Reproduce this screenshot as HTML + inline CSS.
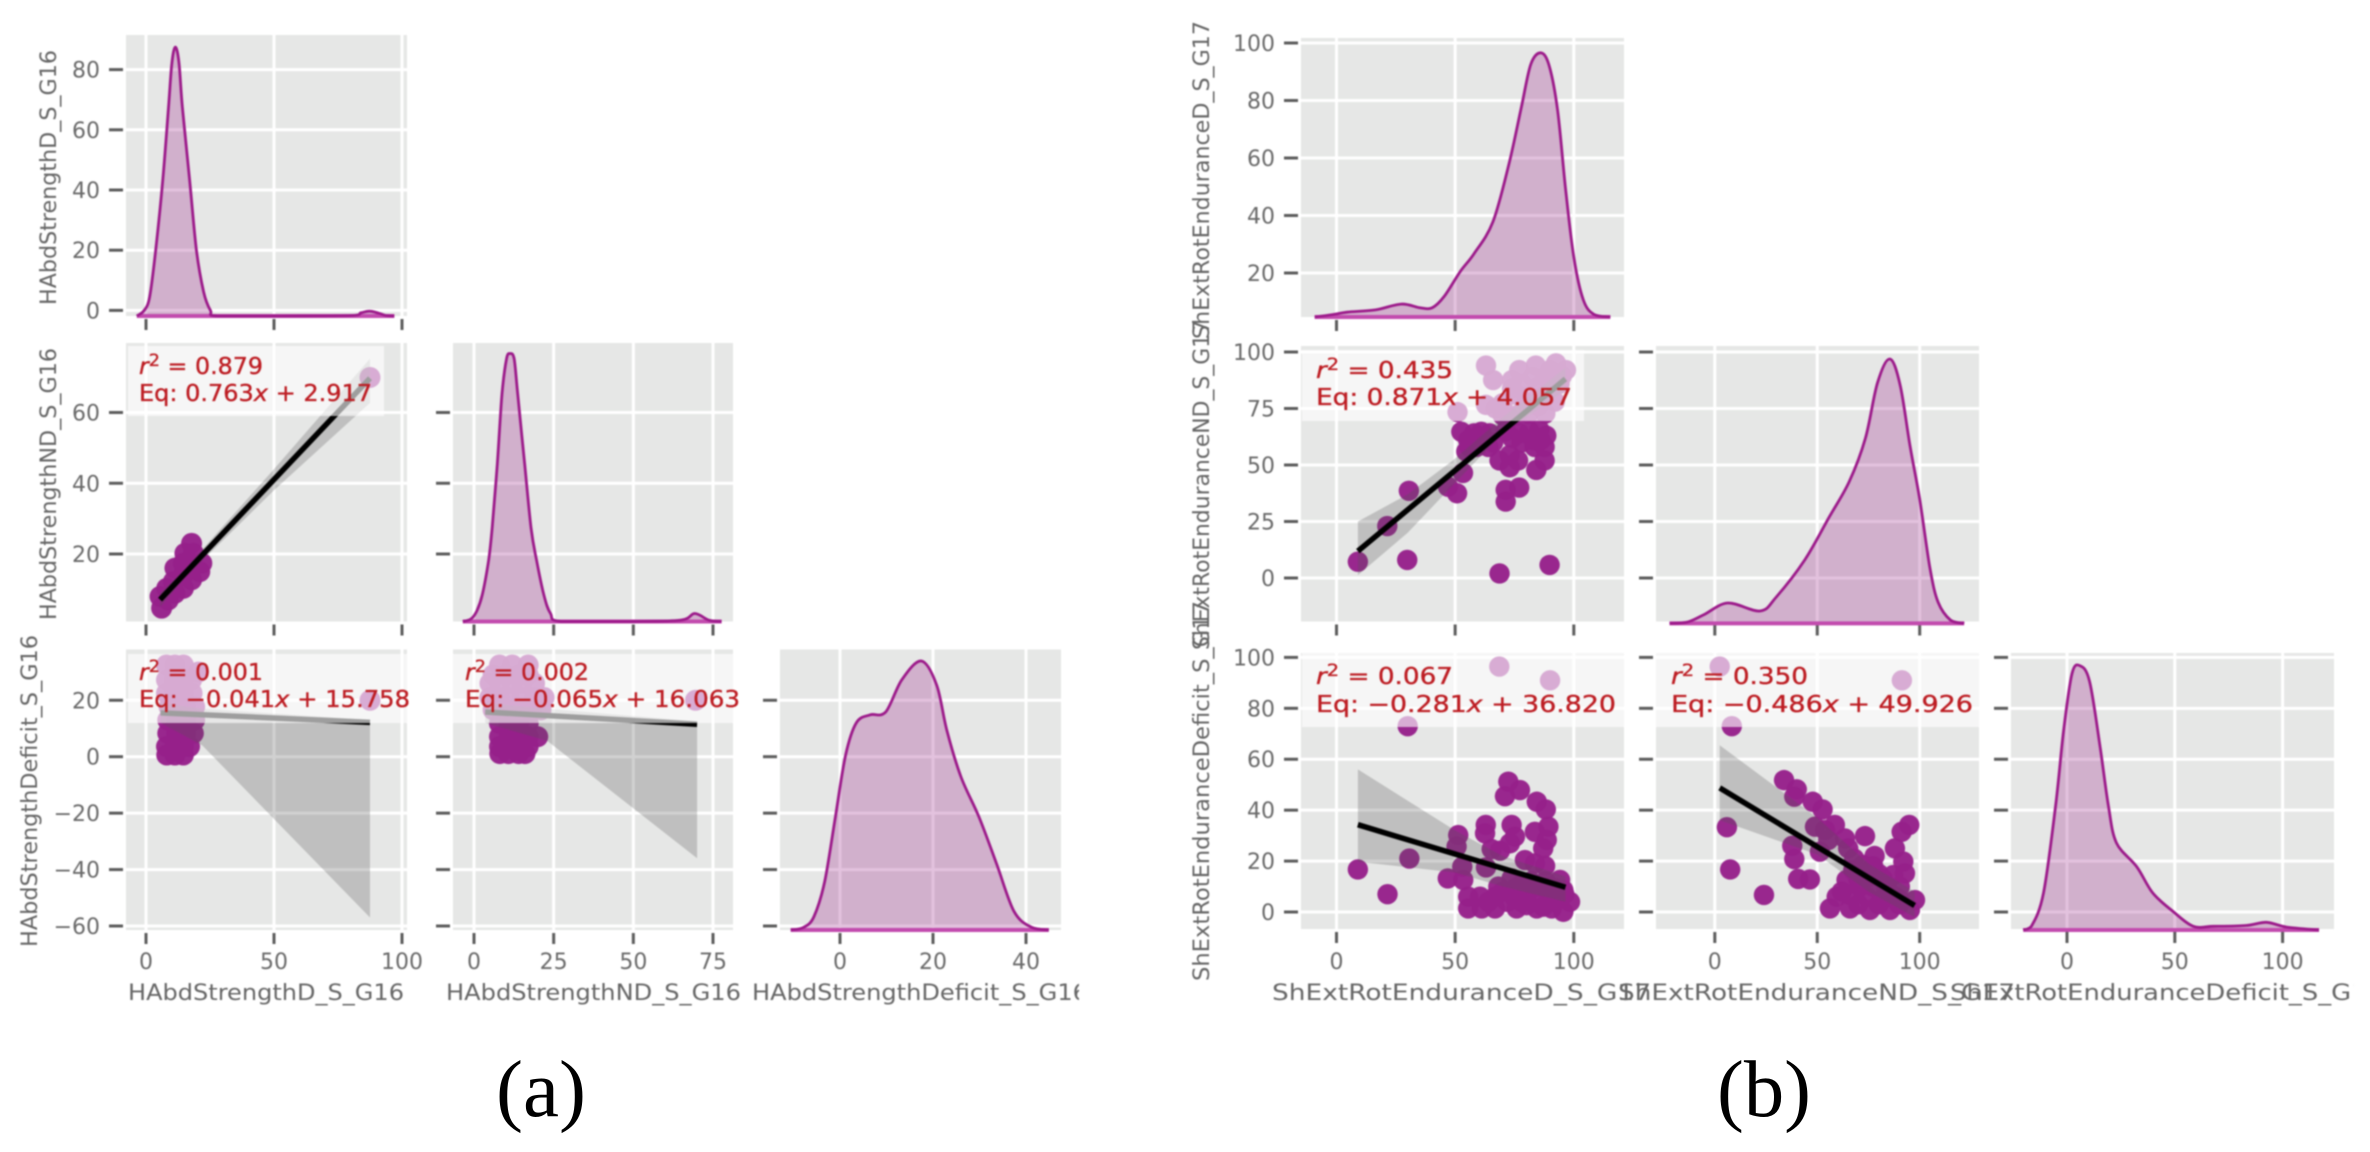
<!DOCTYPE html>
<html lang="en">
<head>
<meta charset="utf-8">
<title>Pair plots of strength and endurance</title>
<style>
html,body{margin:0;padding:0;background:#fff;width:2370px;height:1152px;overflow:hidden}
svg{display:block}
text{font-family:"DejaVu Sans","Liberation Sans",sans-serif}
.tl{font-size:22px;fill:#6a6a6a}
.al{font-size:22px;fill:#666}
.ann{font-size:23px;fill:#bd1c22;stroke:#bd1c22;stroke-width:.35}
.cap{font-family:"Liberation Serif",serif;font-size:80px;fill:#000}
</style>
</head>
<body>
<svg id="chart" xmlns="http://www.w3.org/2000/svg" width="2370" height="1152" viewBox="0 0 2370 1152">
<defs>
<filter id="soft" filterUnits="userSpaceOnUse" x="0" y="0" width="2370" height="1152" color-interpolation-filters="sRGB"><feGaussianBlur stdDeviation="0.9"/></filter>
<clipPath id="clipA"><rect x="0" y="0" width="1079" height="1152"/></clipPath>
<clipPath id="clipB"><rect x="1100" y="0" width="1254" height="1152"/></clipPath>
</defs>
<rect width="2370" height="1152" fill="#fff"/>
<g filter="url(#soft)">
<g id="marks"></g>

<g>
<rect x="128" y="346" width="256" height="70" fill="#fff" fill-opacity=".62"/>
<text class="ann" x="139" y="374" textLength="124" lengthAdjust="spacingAndGlyphs"><tspan font-style="italic">r</tspan><tspan dy="-8" font-size="17">2</tspan><tspan dy="8"> = 0.879</tspan></text>
<text class="ann" x="139" y="401" textLength="233" lengthAdjust="spacingAndGlyphs">Eq: 0.763<tspan font-style="italic">x</tspan> + 2.917</text>
</g>
<g>
<rect x="128" y="654" width="279" height="69" fill="#fff" fill-opacity=".62"/>
<text class="ann" x="139" y="680" textLength="124" lengthAdjust="spacingAndGlyphs"><tspan font-style="italic">r</tspan><tspan dy="-8" font-size="17">2</tspan><tspan dy="8"> = 0.001</tspan></text>
<text class="ann" x="139" y="707" textLength="271" lengthAdjust="spacingAndGlyphs">Eq: −0.041<tspan font-style="italic">x</tspan> + 15.758</text>
</g>
<g>
<rect x="453" y="654" width="280" height="69" fill="#fff" fill-opacity=".62"/>
<text class="ann" x="465" y="680" textLength="124" lengthAdjust="spacingAndGlyphs"><tspan font-style="italic">r</tspan><tspan dy="-8" font-size="17">2</tspan><tspan dy="8"> = 0.002</tspan></text>
<text class="ann" x="465" y="707" textLength="275" lengthAdjust="spacingAndGlyphs">Eq: −0.065<tspan font-style="italic">x</tspan> + 16.063</text>
</g>
<g>
<rect x="1302" y="350" width="282" height="71" fill="#fff" fill-opacity=".62"/>
<text class="ann" x="1316" y="378" textLength="137" lengthAdjust="spacingAndGlyphs"><tspan font-style="italic">r</tspan><tspan dy="-8" font-size="17">2</tspan><tspan dy="8"> = 0.435</tspan></text>
<text class="ann" x="1316" y="405" textLength="256" lengthAdjust="spacingAndGlyphs">Eq: 0.871<tspan font-style="italic">x</tspan> + 4.057</text>
</g>
<g>
<rect x="1302" y="653" width="322" height="74" fill="#fff" fill-opacity=".62"/>
<text class="ann" x="1316" y="684" textLength="137" lengthAdjust="spacingAndGlyphs"><tspan font-style="italic">r</tspan><tspan dy="-8" font-size="17">2</tspan><tspan dy="8"> = 0.067</tspan></text>
<text class="ann" x="1316" y="712" textLength="300" lengthAdjust="spacingAndGlyphs">Eq: −0.281<tspan font-style="italic">x</tspan> + 36.820</text>
</g>
<g>
<rect x="1656" y="653" width="323" height="74" fill="#fff" fill-opacity=".62"/>
<text class="ann" x="1671" y="684" textLength="137" lengthAdjust="spacingAndGlyphs"><tspan font-style="italic">r</tspan><tspan dy="-8" font-size="17">2</tspan><tspan dy="8"> = 0.350</tspan></text>
<text class="ann" x="1671" y="712" textLength="302" lengthAdjust="spacingAndGlyphs">Eq: −0.486<tspan font-style="italic">x</tspan> + 49.926</text>
</g>

<text class="al" x="128" y="1000" textLength="276" lengthAdjust="spacingAndGlyphs">HAbdStrengthD_S_G16</text>
<text class="al" x="446" y="1000" textLength="295" lengthAdjust="spacingAndGlyphs">HAbdStrengthND_S_G16</text>
<text class="al" x="752" y="1000" textLength="336" lengthAdjust="spacingAndGlyphs" clip-path="url(#clipA)">HAbdStrengthDeficit_S_G16</text>
<text class="al" transform="translate(56 305) rotate(-90)" textLength="255" lengthAdjust="spacingAndGlyphs">HAbdStrengthD_S_G16</text>
<text class="al" transform="translate(56 620) rotate(-90)" textLength="272" lengthAdjust="spacingAndGlyphs">HAbdStrengthND_S_G16</text>
<text class="al" transform="translate(37 947) rotate(-90)" textLength="312" lengthAdjust="spacingAndGlyphs">HAbdStrengthDeficit_S_G16</text>

<text class="al" x="1272" y="1000" textLength="379" lengthAdjust="spacingAndGlyphs">ShExtRotEnduranceD_S_G17</text>
<text class="al" x="1618" y="1000" textLength="397" lengthAdjust="spacingAndGlyphs">ShExtRotEnduranceND_S_G17</text>
<text class="al" x="1950" y="1000" textLength="434" lengthAdjust="spacingAndGlyphs" clip-path="url(#clipB)">ShExtRotEnduranceDeficit_S_G17</text>
<text class="al" transform="translate(1209 339) rotate(-90)" textLength="318" lengthAdjust="spacingAndGlyphs">ShExtRotEnduranceD_S_G17</text>
<text class="al" transform="translate(1209 650) rotate(-90)" textLength="330" lengthAdjust="spacingAndGlyphs">ShExtRotEnduranceND_S_G17</text>
<text class="al" transform="translate(1209 981) rotate(-90)" textLength="380" lengthAdjust="spacingAndGlyphs">ShExtRotEnduranceDeficit_S_G17</text>
</g>

<text class="cap" x="496" y="1116" textLength="90" lengthAdjust="spacingAndGlyphs">(a)</text>
<text class="cap" x="1717" y="1116" textLength="94" lengthAdjust="spacingAndGlyphs">(b)</text>
</svg>

<script>
/* ---------- tick values ---------- */
const aTicksXD = [0, 50, 100];
const aTicksXND = [0, 25, 50, 75];
const aTicksXDef = [0, 20, 40];
const aTicksYD = [0, 20, 40, 60, 80];
const aTicksYND = [20, 40, 60];
const aTicksYDef = [-60, -40, -20, 0, 20];
const bTicksX = [0, 50, 100];
const bTicksYD = [20, 40, 60, 80, 100];
const bTicksYND = [0, 25, 50, 75, 100];
const bTicksYDef = [0, 20, 40, 60, 80, 100];

/* ---------- KDE curves: value, relative density (peak = 100) ---------- */
const aKdeDX = [-3.6, -0.8, 1.4, 3.8, 6.6, 8.8, 10.1, 11.5, 12.9, 14.2, 17, 19.7, 22.5, 25.2, 27.9, 52.6, 80, 84, 87.4, 91, 93.7, 97];
const aKdeDH = [0, 2, 7, 24.5, 51, 77.5, 94, 100, 94, 77.5, 51, 24.5, 9, 2, 0, 0, 0.2, 1.2, 1.8, 1, 0.2, 0];
const aKdeNDX = [-3.5, -0.9, 0.9, 2.6, 4.6, 5.7, 7.3, 8.8, 10.2, 11.3, 12.6, 13.7, 15.9, 17.9, 19.6, 21.9, 24, 27.4, 49.4, 64.9, 69.3, 73.7, 77.7];
const aKdeNDH = [0, 1, 4, 10, 23, 35, 58.7, 85, 98, 100, 98, 85, 58.7, 35, 23, 10, 3, 0, 0, 0.5, 3, 0.5, 0];
const aKdeDefX = [-10.6, -7.8, -5.6, -3.3, -1, 1.2, 3.5, 6.5, 9.8, 13.3, 17.5, 20.8, 23, 26, 29.9, 33.6, 37.4, 41.2, 44.9];
const aKdeDefH = [0, 1, 5, 18, 42, 65, 77, 80, 81, 93, 100, 91, 74, 57, 42, 25, 7, 1, 0];
const bKdeDX = [-9.2, -2.4, 4.4, 16.4, 27.3, 35.2, 40.3, 45.4, 52.2, 58, 65.9, 72.7, 77.8, 81.9, 86.3, 89.8, 93.2, 96.6, 100, 104, 108.5, 115.4];
const bKdeDH = [0, 0.8, 1.8, 2.7, 4.9, 3.5, 3.5, 7.8, 17.3, 24, 36, 58, 79, 95.7, 100, 94.6, 78, 48, 22.7, 6.5, 1, 0];
const bKdeNDX = [-22.1, -13.4, -5.5, 6.3, 22.1, 30, 43.9, 55.7, 65.6, 73.5, 79.4, 85.4, 90.5, 95.3, 100, 105, 109, 115, 121.7];
const bKdeNDH = [0, 0.5, 3.2, 7.7, 4.7, 10, 24, 40, 53.6, 70, 91, 100, 90, 67, 47, 21, 8, 1.3, 0];
const bKdeDefX = [-20.3, -16.5, -10.9, -5.3, -1.5, 2.3, 6, 10.5, 15.4, 19.2, 22.9, 32.3, 39.8, 49.2, 58.6, 68, 83, 92.5, 101.9, 116.9];
const bKdeDefH = [0, 1.4, 14, 47, 76, 97, 100, 94, 69, 47, 33, 24, 14, 7, 1.4, 1.4, 1.7, 2.9, 1.1, 0];

/* ---------- scatter data ---------- */
const aNdVsDX = [6.1, 5.5, 8.7, 8.1, 11.3, 10.7, 14.6, 11.3, 14.6, 17.8, 14.6, 17.8, 21, 15.2, 18.5, 21.8, 17.8, 87.5];
const aNdVsDY = [4.7, 8, 7, 10.3, 8.9, 12.2, 10.3, 16, 14.1, 12.7, 17.4, 16.9, 15, 20.2, 20.2, 17.4, 23, 69.9];
const aDefVsDX = [8.1, 11.3, 14.6, 8, 11.3, 14.6, 17, 8.5, 12, 15.5, 18.5, 8.5, 12, 15.5, 19, 9, 12, 15.5, 19, 8, 11, 14.6, 18, 8, 11, 14.6, 17.8, 8, 11.3, 14.6, 20.5, 87.5];
const aDefVsDY = [0.6, 0.6, 0.6, 3.6, 3.6, 3.6, 3.6, 8.3, 8.3, 8.3, 8.3, 13, 13, 13, 13, 17.7, 17.7, 17.7, 17.7, 22.5, 22.5, 22.5, 22.5, 27.2, 27.2, 27.2, 27.2, 32.5, 32.5, 32.5, 30, 20];
const aDefVsNDX = [8.1, 10.8, 14, 16, 8, 11, 14, 17, 8, 11, 14, 17, 20, 8, 11, 14, 17, 6, 9, 12, 15, 18, 21, 5, 8, 11, 15, 19, 22, 5, 8, 12, 15, 19, 6, 10, 14, 17, 8, 12, 17, 69.5];
const aDefVsNDY = [1.1, 1.1, 1.1, 1.1, 3.6, 3.6, 3.6, 3.6, 7.1, 7.1, 7.1, 7.1, 7.1, 11.8, 11.8, 11.8, 11.8, 16.6, 16.6, 16.6, 16.6, 16.6, 16.6, 21, 21, 21, 21, 21, 21, 26, 26, 26, 26, 26, 29, 29, 29, 29, 32.5, 32.5, 32.5, 20];

const bNdVsDX = [9, 29.8, 68.7, 89.8, 21.4, 30.5, 47, 50.8, 53.3, 71.3, 77, 71.3, 68.7, 73, 76.5, 73, 84.2, 87.7, 83.5, 87.7, 88.4, 52.6, 55.5, 54.7, 61, 64.5, 59, 71.3, 77, 81.3, 85.5, 51, 63, 66, 63, 67, 74, 77, 82.7, 88, 92.5, 96.7, 95, 87, 77, 73, 81, 88, 91, 70, 85, 70, 76, 85, 92, 78, 84, 90, 94, 80, 74, 58, 66, 74, 78, 83, 86, 60, 56, 64];
const bNdVsDY = [7.2, 8, 2, 5.8, 23, 38.6, 40.4, 37.5, 46.5, 39, 40, 33.8, 52, 54.4, 52, 49, 47.8, 52, 58, 58, 63, 64.7, 61, 56, 64.7, 64, 58, 65, 64, 65, 65.5, 73.4, 94, 87.6, 76.6, 75, 87.6, 92, 89, 89, 95, 92, 89.5, 80.5, 80.5, 71, 72.8, 72.8, 84.6, 77.3, 84.6, 72, 72, 76, 78, 86, 94, 92, 86, 78, 84, 64, 60, 62, 60, 61, 61, 62, 58, 58];
const bDefVsDX = [30, 68.6, 90, 9, 30.7, 21.5, 55.5, 55.5, 60.5, 61.2, 66.8, 68.2, 66.8, 75.9, 84.4, 90.7, 95.6, 98.4, 95.6, 94.2, 90, 85.8, 80.1, 75.2, 73.8, 82.9, 87.1, 80.1, 75.2, 92.1, 51.3, 50.6, 53, 46.9, 53.4, 62.9, 62.6, 63, 65.4, 68.9, 73.8, 75.2, 73.1, 83.6, 89.3, 88.6, 87.1, 79.4, 83.6, 87.9, 71, 77.3, 72.4, 84.4, 88.2, 70, 78, 82, 88, 92, 96, 85, 90, 78, 72, 64];
const bDefVsDY = [73, 96.4, 91, 16.7, 21, 7, 1.4, 6, 6, 1.4, 1.4, 10, 6, 1.4, 1.4, 1.4, 0.1, 4, 8.6, 12.6, 6.7, 6.7, 6.7, 9.3, 13.2, 10, 2.1, 2.7, 5.4, 9.3, 30.2, 25.7, 17.8, 13.2, 12.6, 34.2, 30.9, 17.5, 24.7, 24.1, 34.2, 29.6, 27, 31.5, 33.5, 28.3, 25, 20.4, 19.1, 18.1, 45.5, 47.9, 51.2, 43.3, 40.3, 8, 4, 12, 12, 4, 7, 10, 10, 11, 4, 4];
const bDefVsNDX = [2.4, 91.3, 8.3, 5.9, 7.5, 24, 56.2, 66, 75.7, 85.5, 95.2, 97.7, 59.5, 66, 74.1, 82.2, 90.3, 64.3, 70.8, 77.3, 83.8, 90.3, 67.6, 72.4, 77.3, 87.1, 92, 92.8, 87.9, 91.2, 94.9, 73.3, 65.1, 63.5, 58.6, 48.9, 53.8, 55.4, 51.3, 52.6, 47.8, 38.8, 40, 33.8, 37.8, 38.8, 40.7, 46.4, 70, 80, 90, 62, 70, 76, 82, 88, 78, 72, 80, 68];
const bDefVsNDY = [96.4, 91, 73, 33.3, 16.7, 6.7, 1.4, 1.4, 0.8, 0.8, 0.8, 4.7, 6, 6.7, 6, 5.4, 4.7, 12.6, 10, 10, 10, 10, 16.5, 18.5, 18, 14.5, 19.8, 15.2, 25, 31.5, 34.2, 29.8, 25, 28.9, 34.2, 33.5, 32.2, 28.3, 23.7, 40.3, 43.3, 45.3, 48.2, 51.8, 26, 20.8, 13, 12.8, 3, 3, 3, 8, 13, 14, 13, 6, 22, 15, 15, 21];

/* ---------- regression fits: [x start, x end], slope, intercept ---------- */
const aNdVsDFitX = [5.5, 87.5];
const aNdVsDSlope = 0.763;
const aNdVsDIntercept = 2.917;
const aDefVsDFitX = [5.7, 87.5];
const aDefVsDSlope = -0.041;
const aDefVsDIntercept = 15.758;
const aDefVsNDFitX = [3.5, 70];
const aDefVsNDSlope = -0.065;
const aDefVsNDIntercept = 16.063;
const bNdVsDFitX = [9, 96.5];
const bNdVsDSlope = 0.871;
const bNdVsDIntercept = 4.057;
const bDefVsDFitX = [9, 96.5];
const bDefVsDSlope = -0.281;
const bDefVsDIntercept = 36.82;
const bDefVsNDFitX = [2.4, 97.5];
const bDefVsNDSlope = -0.486;
const bDefVsNDIntercept = 49.926;

/* ---------- confidence bands: x, upper, lower ---------- */
const aNdVsDBandX = [5.5, 15, 50, 87.5];
const aNdVsDBandUp = [9, 15.6, 44, 75.2];
const aNdVsDBandLo = [5, 13.2, 38, 62.7];
const aDefVsDBandX = [5.7, 22, 87.5];
const aDefVsDBandUp = [19, 17, 13];
const aDefVsDBandLo = [12, 4, -57];
const aDefVsNDBandX = [3.5, 23, 70];
const aDefVsNDBandUp = [19, 17, 12.5];
const aDefVsNDBandLo = [12, 5.6, -36];
const bNdVsDBandX = [9, 30, 49, 70, 96.5];
const bNdVsDBandUp = [25, 37, 52, 71, 93];
const bNdVsDBandLo = [1.3, 20, 41, 64, 83];
const bDefVsDBandX = [9, 50, 70, 96.5];
const bDefVsDBandUp = [56, 32, 22, 14];
const bDefVsDBandLo = [19.7, 15.5, 10, 4];
const bDefVsNDBandX = [2.4, 50, 75, 97.5];
const bDefVsNDBandUp = [65.5, 37, 19, 8];
const bDefVsNDBandLo = [36, 22.6, 8, -2];

/* ---------- axis functions ---------- */
function linear(v0, p0, v1, p1) {
  return function (v) { return p0 + (v - v0) * (p1 - p0) / (v1 - v0); };
}
const aXD = linear(0, 146, 100, 402);
const aXND = linear(0, 474, 75, 713);
const aXDef = linear(0, 840, 40, 1026);
const aYD = linear(0, 310.4, 80, 69.6);
const aYND = linear(20, 554, 60, 412.5);
const aYDef = linear(0, 756.7, -60, 926);
const bXD = linear(0, 1336.5, 100, 1573.8);
const bXND = linear(0, 1714.8, 100, 1919.7);
const bXDef = linear(0, 2067, 100, 2282.6);
const bYD = linear(20, 273, 100, 43);
const bYND = linear(0, 578, 100, 352);
const bYDef = linear(0, 912, 100, 657.4);

/* ---------- drawing helpers ---------- */
const NS = 'http://www.w3.org/2000/svg';
const root = document.getElementById('marks');

function mk(tag, attrs, parent) {
  const n = document.createElementNS(NS, tag);
  for (const k in attrs) n.setAttribute(k, attrs[k]);
  parent.appendChild(n);
  return n;
}
function fmt(v) {
  return v < 0 ? '\u2212' + Math.abs(v) : String(v);
}
function smoothPath(pts) {
  let d = 'M' + pts[0][0].toFixed(1) + ' ' + pts[0][1].toFixed(1);
  for (let i = 0; i < pts.length - 1; i++) {
    const p0 = pts[Math.max(0, i - 1)], p1 = pts[i], p2 = pts[i + 1], p3 = pts[Math.min(pts.length - 1, i + 2)];
    const c1x = p1[0] + (p2[0] - p0[0]) / 6;
    const c1y = Math.min(pts[0][1], p1[1] + (p2[1] - p0[1]) / 6);
    const c2x = p2[0] - (p3[0] - p1[0]) / 6;
    const c2y = Math.min(pts[0][1], p2[1] - (p3[1] - p1[1]) / 6);
    d += 'C' + c1x.toFixed(1) + ' ' + c1y.toFixed(1) + ' ' + c2x.toFixed(1) + ' ' + c2y.toFixed(1) + ' ' + p2[0].toFixed(1) + ' ' + p2[1].toFixed(1);
  }
  return d;
}

function drawPanel(box, xs, xTicks, ys, yTicks, xTickLabels, yTickLabels, name) {
  const g = mk('g', {}, root);
  
  
  const bg = mk('rect', { x: box[0], y: box[2], width: box[1] - box[0], height: box[3] - box[2], fill: '#e6e7e6' }, g);
  
  
  xTicks.forEach(function (t) {
    const gl = mk('line', { x1: xs(t), x2: xs(t), y1: box[2], y2: box[3], stroke: '#fff', 'stroke-width': 3 }, g);
    
    
    const tk = mk('line', { x1: xs(t), x2: xs(t), y1: box[3] + 3, y2: box[3] + 14, stroke: '#5c5c5c', 'stroke-width': 3 }, g);
    
    
    if (xTickLabels) {
      const tl = mk('text', { x: xs(t), y: 969, 'text-anchor': 'middle', class: 'tl' }, g);
      
      
      tl.textContent = fmt(t);
    }
  });
  yTicks.forEach(function (t) {
    const gl = mk('line', { x1: box[0], x2: box[1], y1: ys(t), y2: ys(t), stroke: '#fff', 'stroke-width': 3 }, g);
    
    
    const tk = mk('line', { x1: box[0] - 17, x2: box[0] - 3, y1: ys(t), y2: ys(t), stroke: '#5c5c5c', 'stroke-width': 3 }, g);
    
    
    if (yTickLabels) {
      const tl = mk('text', { x: box[0] - 26, y: ys(t) + 8, 'text-anchor': 'end', class: 'tl' }, g);
      
      
      tl.textContent = fmt(t);
    }
  });
  return g;
}

function drawKde(g, xs, xv, hv, bottom, peak) {
  const hs = linear(0, bottom, 100, peak);
  const pts = xv.map(function (x, i) { return [xs(x), hs(hv[i])]; });
  const d = smoothPath(pts);
  const area = mk('path', { d: d + 'Z', fill: '#981e86', 'fill-opacity': 0.27 }, g);
  
  
  const base = mk('line', { x1: pts[0][0], x2: pts[pts.length - 1][0], y1: bottom, y2: bottom, stroke: '#c24bae', 'stroke-width': 4 }, g);
  
  
  const line = mk('path', { d: d, fill: 'none', stroke: '#9c1a8a', 'stroke-width': 2.8 }, g);
  
  
}

function drawScatter(g, xs, ys, xv, yv, r) {
  xv.forEach(function (x, i) {
    const c = mk('circle', { cx: xs(x), cy: ys(yv[i]), r: r, fill: '#96208a', 'fill-opacity': 0.97 }, g);
    
    
  });
}

function drawFit(g, xs, ys, fitX, slope, intercept, bandX, bandUp, bandLo) {
  const upper = bandX.map(function (x, i) { return xs(x).toFixed(1) + ',' + ys(bandUp[i]).toFixed(1); });
  const lower = bandX.map(function (x, i) { return xs(x).toFixed(1) + ',' + ys(bandLo[i]).toFixed(1); }).reverse();
  const band = mk('polygon', { points: upper.concat(lower).join(' '), fill: '#555', 'fill-opacity': 0.27 }, g);
  
  
  const line = mk('line', {
    x1: xs(fitX[0]), y1: ys(slope * fitX[0] + intercept),
    x2: xs(fitX[1]), y2: ys(slope * fitX[1] + intercept),
    stroke: '#000', 'stroke-width': 5.5
  }, g);
  
  
}

/* ---------- figure (a) ---------- */
const aC1 = [126, 407], aC2 = [453, 733], aC3 = [780, 1061];
const aR1 = [35, 316], aR2 = [343, 621.5], aR3 = [649.5, 930];
function bx(c, r) { return [c[0], c[1], r[0], r[1]]; }

const pA11 = drawPanel(bx(aC1, aR1), aXD, aTicksXD, aYD, aTicksYD, false, true, 'panel-a-d-kde');
drawKde(pA11, aXD, aKdeDX, aKdeDH, 316, 47);

const pA21 = drawPanel(bx(aC1, aR2), aXD, aTicksXD, aYND, aTicksYND, false, true, 'panel-a-nd-vs-d');
drawScatter(pA21, aXD, aYND, aNdVsDX, aNdVsDY, 10.5);
drawFit(pA21, aXD, aYND, aNdVsDFitX, aNdVsDSlope, aNdVsDIntercept, aNdVsDBandX, aNdVsDBandUp, aNdVsDBandLo);

const pA22 = drawPanel(bx(aC2, aR2), aXND, aTicksXND, aYND, aTicksYND, false, false, 'panel-a-nd-kde');
drawKde(pA22, aXND, aKdeNDX, aKdeNDH, 621.5, 353.6);

const pA31 = drawPanel(bx(aC1, aR3), aXD, aTicksXD, aYDef, aTicksYDef, true, true, 'panel-a-deficit-vs-d');
drawScatter(pA31, aXD, aYDef, aDefVsDX, aDefVsDY, 10.5);
drawFit(pA31, aXD, aYDef, aDefVsDFitX, aDefVsDSlope, aDefVsDIntercept, aDefVsDBandX, aDefVsDBandUp, aDefVsDBandLo);

const pA32 = drawPanel(bx(aC2, aR3), aXND, aTicksXND, aYDef, aTicksYDef, true, false, 'panel-a-deficit-vs-nd');
drawScatter(pA32, aXND, aYDef, aDefVsNDX, aDefVsNDY, 10.5);
drawFit(pA32, aXND, aYDef, aDefVsNDFitX, aDefVsNDSlope, aDefVsNDIntercept, aDefVsNDBandX, aDefVsNDBandUp, aDefVsNDBandLo);

const pA33 = drawPanel(bx(aC3, aR3), aXDef, aTicksXDef, aYDef, aTicksYDef, true, false, 'panel-a-deficit-kde');
drawKde(pA33, aXDef, aKdeDefX, aKdeDefH, 930, 661);

/* ---------- figure (b) ---------- */
const bC1 = [1301, 1624], bC2 = [1656, 1979], bC3 = [2011, 2334];
const bR1 = [38, 317], bR2 = [346, 621.5], bR3 = [653, 929];

const pB11 = drawPanel(bx(bC1, bR1), bXD, bTicksX, bYD, bTicksYD, false, true, 'panel-b-d-kde');
drawKde(pB11, bXD, bKdeDX, bKdeDH, 317, 52.9);

const pB21 = drawPanel(bx(bC1, bR2), bXD, bTicksX, bYND, bTicksYND, false, true, 'panel-b-nd-vs-d');
drawScatter(pB21, bXD, bYND, bNdVsDX, bNdVsDY, 10.2);
drawFit(pB21, bXD, bYND, bNdVsDFitX, bNdVsDSlope, bNdVsDIntercept, bNdVsDBandX, bNdVsDBandUp, bNdVsDBandLo);

const pB22 = drawPanel(bx(bC2, bR2), bXND, bTicksX, bYND, bTicksYND, false, false, 'panel-b-nd-kde');
drawKde(pB22, bXND, bKdeNDX, bKdeNDH, 623.4, 359);

const pB31 = drawPanel(bx(bC1, bR3), bXD, bTicksX, bYDef, bTicksYDef, true, true, 'panel-b-deficit-vs-d');
drawScatter(pB31, bXD, bYDef, bDefVsDX, bDefVsDY, 10.2);
drawFit(pB31, bXD, bYDef, bDefVsDFitX, bDefVsDSlope, bDefVsDIntercept, bDefVsDBandX, bDefVsDBandUp, bDefVsDBandLo);

const pB32 = drawPanel(bx(bC2, bR3), bXND, bTicksX, bYDef, bTicksYDef, true, false, 'panel-b-deficit-vs-nd');
drawScatter(pB32, bXND, bYDef, bDefVsNDX, bDefVsNDY, 10.2);
drawFit(pB32, bXND, bYDef, bDefVsNDFitX, bDefVsNDSlope, bDefVsNDIntercept, bDefVsNDBandX, bDefVsNDBandUp, bDefVsNDBandLo);

const pB33 = drawPanel(bx(bC3, bR3), bXDef, bTicksX, bYDef, bTicksYDef, true, false, 'panel-b-deficit-kde');
drawKde(pB33, bXDef, bKdeDefX, bKdeDefH, 930, 665.7);
</script>
</body>
</html>
